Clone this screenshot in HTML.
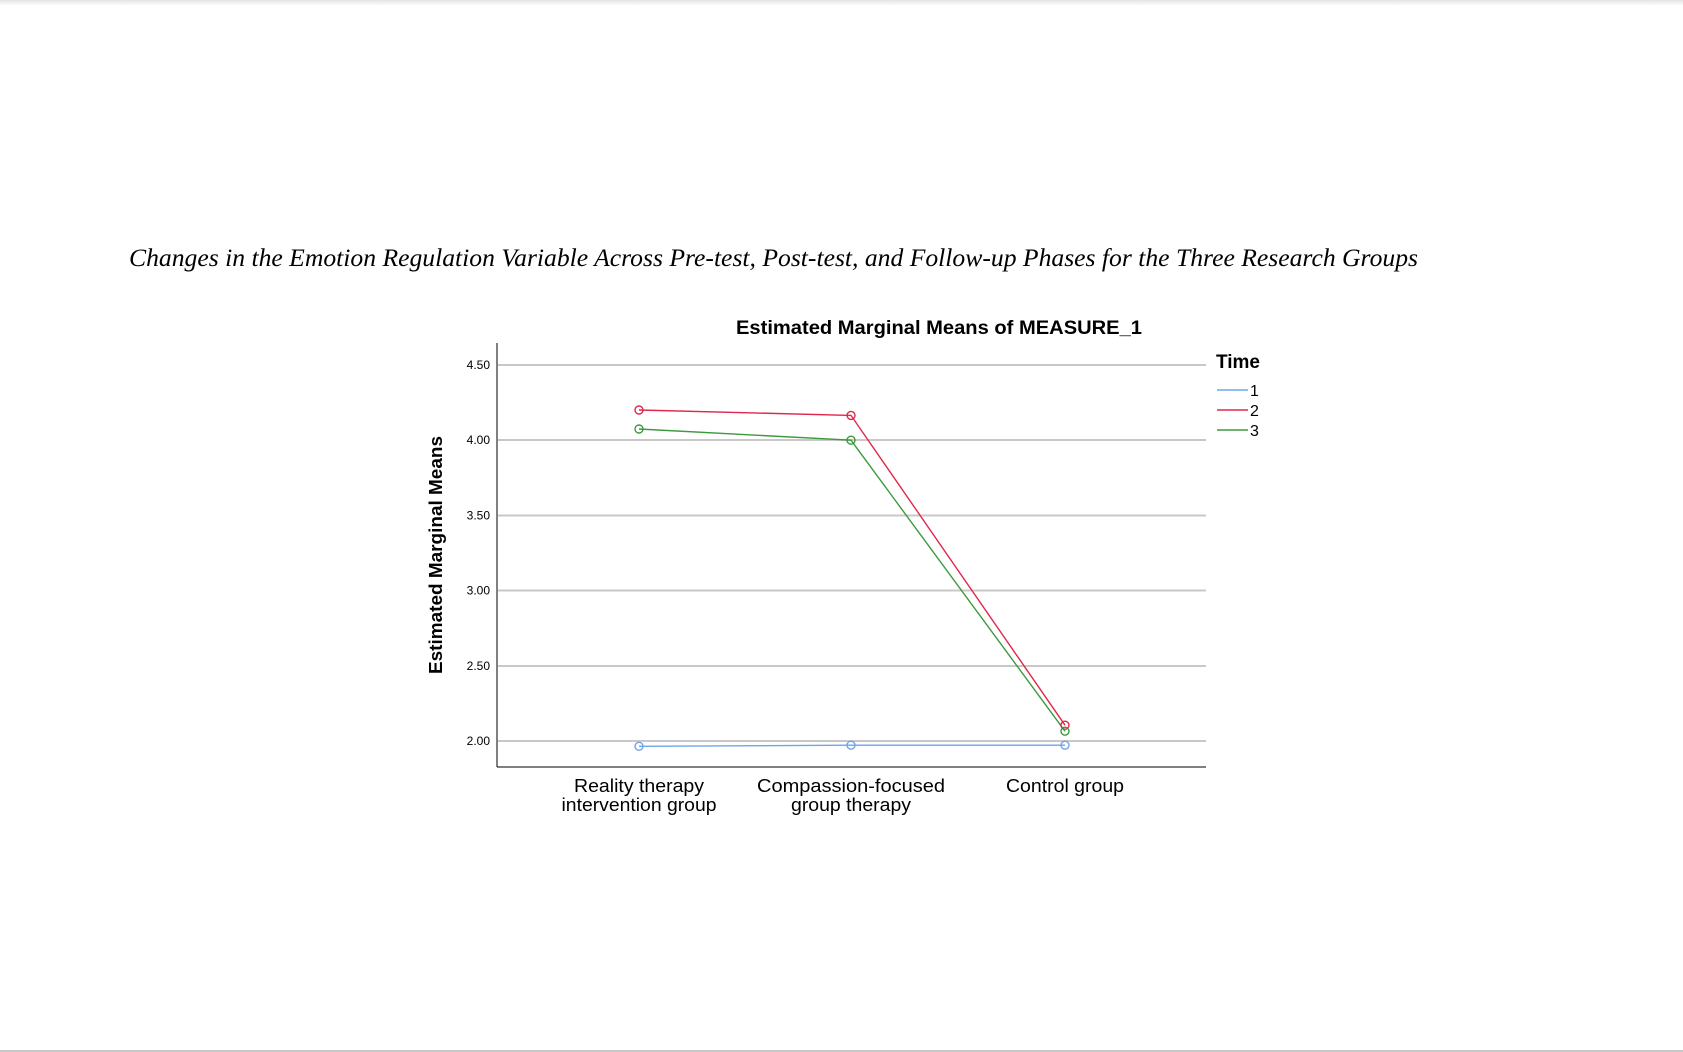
<!DOCTYPE html>
<html><head><meta charset="utf-8"><style>
html,body{margin:0;padding:0;background:#fff;}
body{width:1683px;height:1052px;overflow:hidden;position:relative;}
</style></head><body>
<svg width="1683" height="1052" xmlns="http://www.w3.org/2000/svg" style="position:absolute;left:0;top:0">
<defs><linearGradient id="sh" x1="0" y1="0" x2="0" y2="1"><stop offset="0" stop-color="#e4e4e4"/><stop offset="1" stop-color="#fff"/></linearGradient></defs>
<rect x="0" y="0" width="1683" height="6" fill="url(#sh)"/>
<rect x="0" y="1050" width="1683" height="2" fill="#c8c8c8"/>
<text x="129" y="266" font-family="Liberation Serif, serif" font-style="italic" font-size="25.5" textLength="1289" lengthAdjust="spacingAndGlyphs" fill="#000">Changes in the Emotion Regulation Variable Across Pre-test, Post-test, and Follow-up Phases for the Three Research Groups</text>
<text x="939" y="334" text-anchor="middle" font-family="Liberation Sans, sans-serif" font-weight="bold" font-size="19.5" textLength="406" lengthAdjust="spacingAndGlyphs" fill="#000">Estimated Marginal Means of MEASURE_1</text>
<g stroke="#c8c8c8" stroke-width="2">
<line x1="498" y1="365" x2="1206" y2="365"/>
<line x1="498" y1="440" x2="1206" y2="440"/>
<line x1="498" y1="515.5" x2="1206" y2="515.5"/>
<line x1="498" y1="590.5" x2="1206" y2="590.5"/>
<line x1="498" y1="666" x2="1206" y2="666"/>
<line x1="498" y1="741" x2="1206" y2="741"/>
</g>
<g stroke="#000" stroke-width="1">
<line x1="497" y1="343" x2="497" y2="767"/>
<line x1="497" y1="767" x2="1206" y2="767"/>
</g>
<g font-family="Liberation Sans, sans-serif" font-size="12" text-anchor="end" fill="#000">
<text x="490" y="369">4.50</text><text x="490" y="444">4.00</text><text x="490" y="519.5">3.50</text><text x="490" y="594.5">3.00</text><text x="490" y="670">2.50</text><text x="490" y="745">2.00</text>
</g>
<text transform="translate(442,555) rotate(-90)" text-anchor="middle" font-family="Liberation Sans, sans-serif" font-weight="bold" font-size="18.5" textLength="238" lengthAdjust="spacingAndGlyphs" fill="#000">Estimated Marginal Means</text>
<g font-family="Liberation Sans, sans-serif" font-size="18" text-anchor="middle" fill="#000">
<text x="639" y="792" textLength="130" lengthAdjust="spacingAndGlyphs">Reality therapy</text><text x="639" y="811" textLength="155" lengthAdjust="spacingAndGlyphs">intervention group</text>
<text x="851" y="792" textLength="188" lengthAdjust="spacingAndGlyphs">Compassion-focused</text><text x="851" y="811" textLength="120" lengthAdjust="spacingAndGlyphs">group therapy</text>
<text x="1065" y="792" textLength="118" lengthAdjust="spacingAndGlyphs">Control group</text>
</g>
<g fill="none" stroke-width="1.4">
<polyline stroke="#6fa5e8" points="639,746.3 851,745.2 1065,745.2"/>
<polyline stroke="#e0284e" points="639,410 851,415.4 1065,725.2"/>
<polyline stroke="#3d9a3d" points="639,429 851,440.2 1065,731.2"/>
<g stroke="#6fa5e8"><circle cx="639" cy="746.3" r="4"/><circle cx="851" cy="745.2" r="4"/><circle cx="1065" cy="745.2" r="4"/></g>
<g stroke="#e0284e"><circle cx="639" cy="410" r="4"/><circle cx="851" cy="415.4" r="4"/><circle cx="1065" cy="725.2" r="4"/></g>
<g stroke="#3d9a3d"><circle cx="639" cy="429" r="4"/><circle cx="851" cy="440.2" r="4"/><circle cx="1065" cy="731.2" r="4"/></g>
</g>
<text x="1216" y="368" font-family="Liberation Sans, sans-serif" font-weight="bold" font-size="19" fill="#000">Time</text>
<g stroke-width="1.5">
<line x1="1217" y1="390" x2="1248" y2="390" stroke="#6fa5e8"/>
<line x1="1217" y1="410" x2="1248" y2="410" stroke="#e0284e"/>
<line x1="1217" y1="430" x2="1248" y2="430" stroke="#3d9a3d"/>
</g>
<g font-family="Liberation Sans, sans-serif" font-size="16" fill="#000">
<text x="1250" y="396">1</text><text x="1250" y="416">2</text><text x="1250" y="436">3</text>
</g>
</svg>
</body></html>
